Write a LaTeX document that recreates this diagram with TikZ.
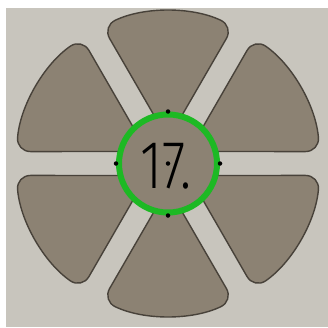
\documentclass[tikz,border=0pt]{standalone}
\usepackage{fontspec}
\newfontfamily\numfont{Fira Sans Light}
\definecolor{bggrey}{HTML}{C8C5BD}
\definecolor{petalfill}{HTML}{8C8273}
\definecolor{petalline}{HTML}{48423A}
\definecolor{ringgreen}{HTML}{1DB924}
\tikzset{
  petal/.style={draw=petalline,fill=petalfill,line width=1.4pt,rounded corners=14pt},
  pin/.style={circle,fill=black,inner sep=0pt,minimum size=4.5pt},
}

\begin{document}
\begin{tikzpicture}[x=1pt,y=1pt,
  ring/.style={circle,draw=ringgreen,line width=6pt,fill=petalfill,
    minimum size=98pt,inner sep=0pt},
]
  \useasboundingbox (0,0) rectangle (328,327);
  \fill[bggrey] (6,0) rectangle (328,319);

  \begin{scope}[shift={(168,163.5)}]
    % petals
    \foreach \a in {90,30,-30,-90,-150,150}
      \draw[petal] (\a:24) -- (\a-25.5:152)
        arc[start angle=\a-25.5,end angle=\a+25.5,radius=152] -- cycle;

    % dial
    \node[ring] (dial) at (0,0) {};
    \node[font=\numfont\fontsize{68}{68}\selectfont,xscale=0.78,
      anchor=base west,inner sep=0pt] (num) at (-28,-25) {17.};
    \foreach \p in {north,south,east,west,center}
      \node[pin] (pin-\p) at (dial.\p) {};
  \end{scope}
\end{tikzpicture}
\end{document}
